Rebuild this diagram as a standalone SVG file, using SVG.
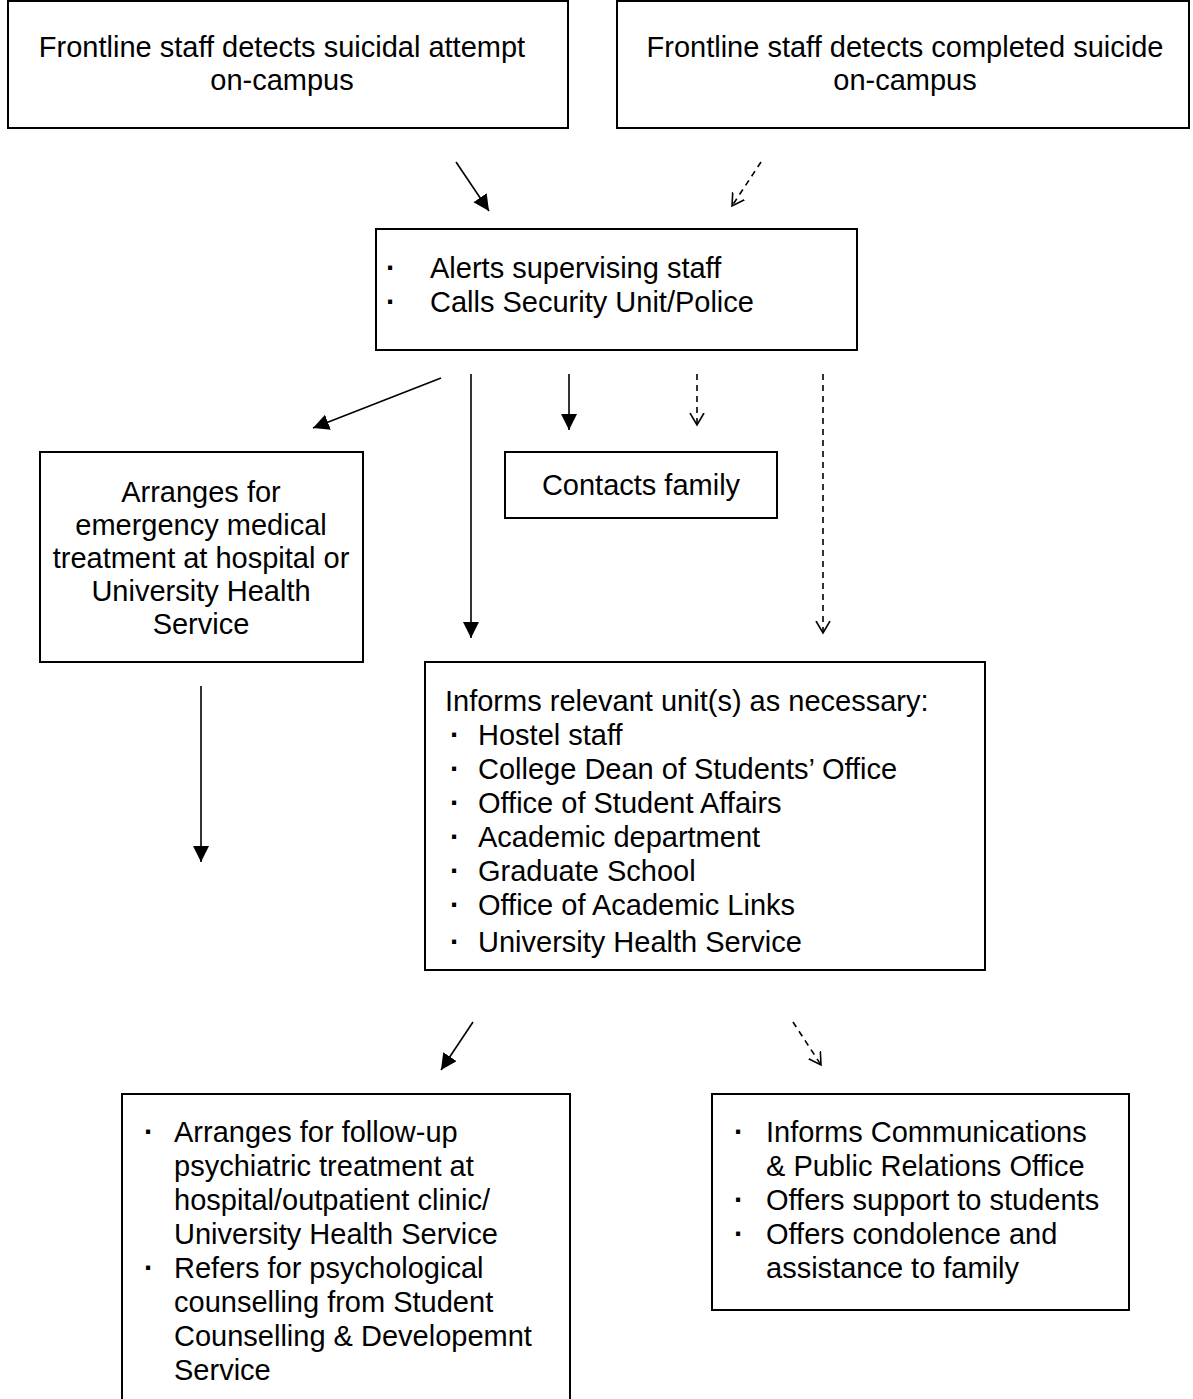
<svg xmlns="http://www.w3.org/2000/svg" width="1193" height="1399" viewBox="0 0 1193 1399">
<style>
.box{fill:#fff;stroke:#000;stroke-width:2}
text{font-family:"Liberation Sans",Arial,sans-serif;font-size:29px;fill:#000}
.c{text-anchor:middle}
.bu{font-weight:bold}
.ln{stroke:#000;stroke-width:1.6;fill:none}
.d{stroke-dasharray:6 5}
.f{marker-end:url(#fh)}
.o{marker-end:url(#oh)}
</style>
<defs>
<marker id="fh" markerUnits="userSpaceOnUse" markerWidth="18" markerHeight="18" refX="16" refY="8" orient="auto" viewBox="0 0 18 18">
<path d="M0,0 L16,8 L0,16 z" fill="#000"/>
</marker>
<marker id="oh" markerUnits="userSpaceOnUse" markerWidth="18" markerHeight="18" refX="12" refY="8" orient="auto" viewBox="0 0 18 18">
<path d="M0,1 L12,8 L0,15" fill="none" stroke="#000" stroke-width="1.6"/>
</marker>
</defs>

<g id="n-attempt">
<rect class="box" x="8" y="1" width="560" height="127"/>
<text class="c" x="282" y="57">Frontline staff detects suicidal attempt</text>
<text class="c" x="282" y="90">on-campus</text>
</g>

<g id="n-completed">
<rect class="box" x="617" y="1" width="572" height="127"/>
<text class="c" x="905" y="57">Frontline staff detects completed suicide</text>
<text class="c" x="905" y="90">on-campus</text>
</g>

<g id="n-alerts">
<rect class="box" x="376" y="229" width="481" height="121"/>
<text class="bu" x="386" y="278">·</text><text x="430" y="278">Alerts supervising staff</text>
<text class="bu" x="386" y="312">·</text><text x="430" y="312">Calls Security Unit/Police</text>
</g>

<g id="n-emergency">
<rect class="box" x="40" y="452" width="323" height="210"/>
<text class="c" x="201" y="502">Arranges for</text>
<text class="c" x="201" y="535">emergency medical</text>
<text class="c" x="201" y="568">treatment at hospital or</text>
<text class="c" x="201" y="601">University Health</text>
<text class="c" x="201" y="634">Service</text>
</g>

<g id="n-family">
<rect class="box" x="505" y="452" width="272" height="66"/>
<text class="c" x="641" y="495">Contacts family</text>
</g>

<g id="n-informs">
<rect class="box" x="425" y="662" width="560" height="308"/>
<text x="445" y="711">Informs relevant unit(s) as necessary:</text>
<text class="bu" x="450" y="745">·</text><text x="478" y="745">Hostel staff</text>
<text class="bu" x="450" y="779">·</text><text x="478" y="779">College Dean of Students’ Office</text>
<text class="bu" x="450" y="813">·</text><text x="478" y="813">Office of Student Affairs</text>
<text class="bu" x="450" y="847">·</text><text x="478" y="847">Academic department</text>
<text class="bu" x="450" y="881">·</text><text x="478" y="881">Graduate School</text>
<text class="bu" x="450" y="915">·</text><text x="478" y="915">Office of Academic Links</text>
<text class="bu" x="450" y="952">·</text><text x="478" y="952">University Health Service</text>
</g>

<g id="n-followup">
<rect class="box" x="122" y="1094" width="448" height="330"/>
<text class="bu" x="144" y="1142">·</text><text x="174" y="1142">Arranges for follow-up</text>
<text x="174" y="1176">psychiatric treatment at</text>
<text x="174" y="1210">hospital/outpatient clinic/</text>
<text x="174" y="1244">University Health Service</text>
<text class="bu" x="144" y="1278">·</text><text x="174" y="1278">Refers for psychological</text>
<text x="174" y="1312">counselling from Student</text>
<text x="174" y="1346">Counselling &amp; Developemnt</text>
<text x="174" y="1380">Service</text>
</g>

<g id="n-support">
<rect class="box" x="712" y="1094" width="417" height="216"/>
<text class="bu" x="734" y="1142">·</text><text x="766" y="1142">Informs Communications</text>
<text x="766" y="1176">&amp; Public Relations Office</text>
<text class="bu" x="734" y="1210">·</text><text x="766" y="1210">Offers support to students</text>
<text class="bu" x="734" y="1244">·</text><text x="766" y="1244">Offers condolence and</text>
<text x="766" y="1278">assistance to family</text>
</g>

<g id="connectors">
<line class="ln f" x1="456" y1="162" x2="489" y2="211"/>
<line class="ln d o" x1="761" y1="162" x2="732" y2="206"/>
<line class="ln f" x1="441" y1="378" x2="313" y2="428"/>
<line class="ln f" x1="471" y1="374" x2="471" y2="638"/>
<line class="ln f" x1="569" y1="374" x2="569" y2="430"/>
<line class="ln d o" x1="697" y1="374" x2="697" y2="425"/>
<line class="ln d o" x1="823" y1="374" x2="823" y2="633"/>
<line class="ln f" x1="201" y1="686" x2="201" y2="862"/>
<line class="ln f" x1="473" y1="1022" x2="441" y2="1070"/>
<line class="ln d o" x1="793" y1="1022" x2="821" y2="1065"/>
</g>
</svg>
